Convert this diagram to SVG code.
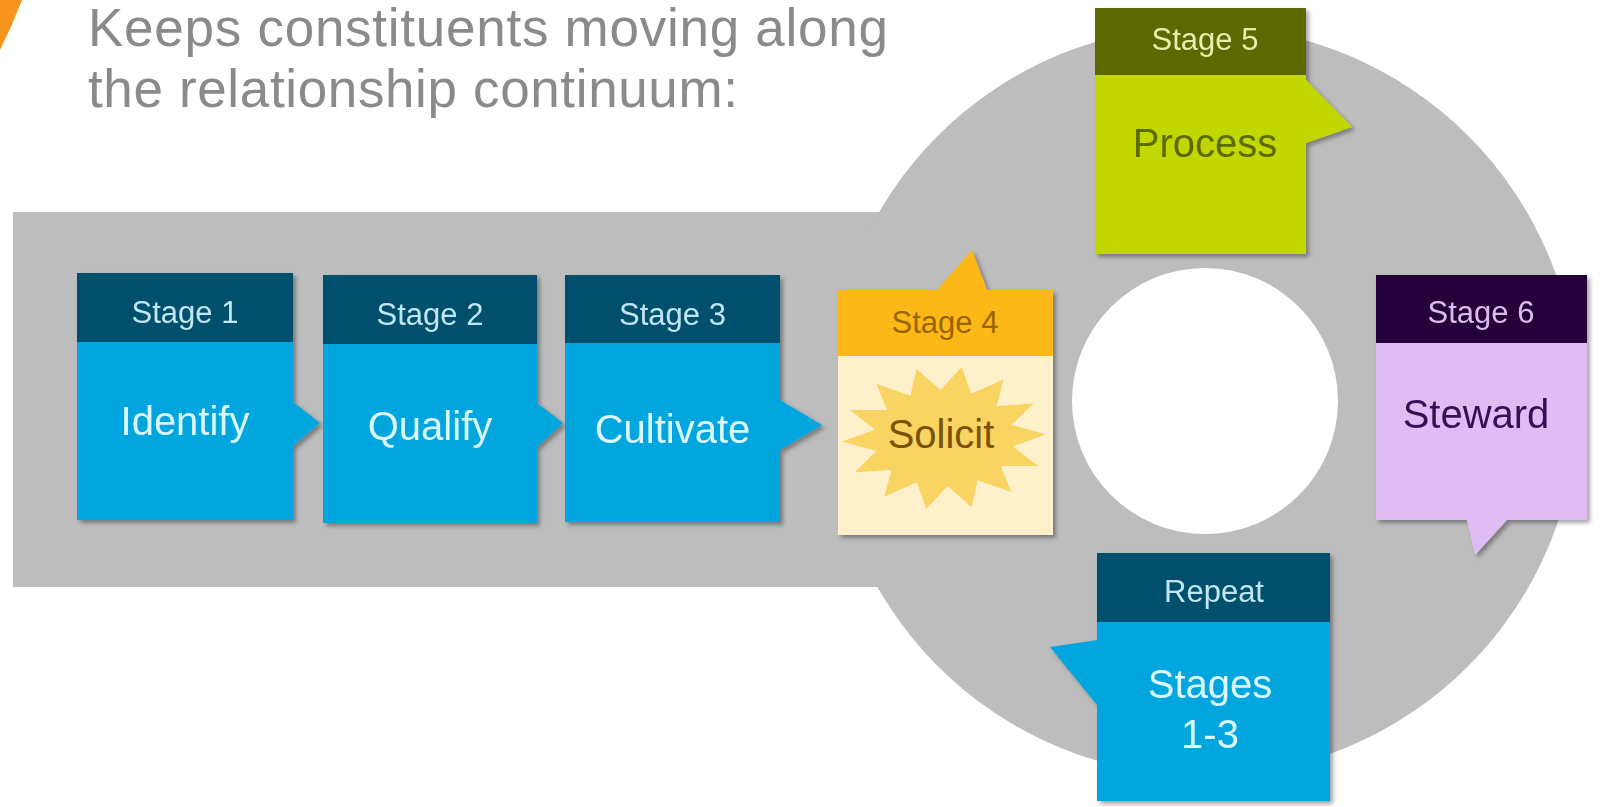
<svg xmlns="http://www.w3.org/2000/svg" width="1608" height="807" viewBox="0 0 1608 807">
  <defs>
    <filter id="sh" x="-10%" y="-10%" width="130%" height="130%">
      <feDropShadow dx="3" dy="3" stdDeviation="2" flood-color="#000" flood-opacity="0.35"/>
    </filter>
  </defs>
  <style>
    .t { font-family: "Liberation Sans", Arial, sans-serif; text-anchor: middle; }
    .hd { font-size: 31px; }
    .bd { font-size: 40px; }
    .bh { fill: #044f6d; }
    .bb { fill: #00a6dd; }
    .bht { fill: #bfe6f2; }
    .bbt { fill: #dcf8ff; }
  </style>
  <rect width="1608" height="807" fill="#ffffff"/>

  <g id="background">
    <path d="M0,0 L22,0 Q12,26 0,50 Z" fill="#f7941d"/>
    <rect x="13" y="212" width="900" height="375" fill="#bdbdbd"/>
    <circle cx="1203" cy="401" r="375" fill="#bdbdbd"/>
    <circle cx="1205" cy="401" r="133" fill="#ffffff"/>
  </g>

  <g id="title" class="t" style="text-anchor:start" fill="#8a8a8a" font-size="53">
    <text x="88" y="46" textLength="800" lengthAdjust="spacing">Keeps constituents moving along</text>
    <text x="88" y="107" textLength="650" lengthAdjust="spacing">the relationship continuum:</text>
  </g>

  <g id="connectors"></g>

  <g id="stage1" filter="url(#sh)">
    <path class="bb" d="M77,342 H293 V402 L320,423 L293,446 V520 H77 Z"/>
    <rect class="bh" x="77" y="273" width="216" height="69"/>
    <text class="t hd bht" x="185" y="323">Stage 1</text>
    <text class="t bd bbt" x="185" y="435">Identify</text>
  </g>

  <g id="stage2" filter="url(#sh)">
    <path class="bb" d="M323,344 H537 V403 L563,423 L537,447 V523 H323 Z"/>
    <rect class="bh" x="323" y="275" width="214" height="69"/>
    <text class="t hd bht" x="430" y="325">Stage 2</text>
    <text class="t bd bbt" x="430" y="440">Qualify</text>
  </g>

  <g id="stage3" filter="url(#sh)">
    <path class="bb" d="M565,343 H780 V400 L822,425 L780,450 V522 H565 Z"/>
    <rect class="bh" x="565" y="275" width="215" height="68"/>
    <text class="t hd bht" x="672.5" y="325">Stage 3</text>
    <text class="t bd bbt" x="672.5" y="443">Cultivate</text>
  </g>

  <g id="stage4">
    <g filter="url(#sh)">
      <rect x="838" y="356" width="215" height="179" fill="#fdf0ca"/>
      <path d="M838,290 H937 L972,250 L987,290 H1053 V356 H838 Z" fill="#fcb813"/>
    </g>
    <polygon fill="#f9d462" points="961.7,367.1 971.2,393.8 1003.5,379.5 996.5,406.2 1033.6,403.6 1011.4,425 1045.9,434.4 1012.9,446.3 1038,466 1000.8,466 1011.5,492 977.5,480.2 971.6,507.3 947.5,485.9 926.3,508.9 916.8,482.2 884.5,496.5 891.5,469.8 854.4,472.4 876.6,451 842.1,441.6 875.1,429.7 850,410 887.2,410 876.5,384 910.5,395.8 916.4,368.7 940.5,390.1"/>
    <text class="t hd" x="945" y="333" fill="#9a6400">Stage 4</text>
    <text class="t bd" x="941" y="448" fill="#7a5200">Solicit</text>
  </g>

  <g id="stage5" filter="url(#sh)">
    <path d="M1095,75 H1306 V80 L1352,127 L1306,143 V254 H1095 Z" fill="#c2d700"/>
    <rect x="1095" y="8" width="211" height="67" fill="#5b6700"/>
    <text class="t hd" x="1205" y="50" fill="#e6eeae">Stage 5</text>
    <text class="t bd" x="1205" y="157" fill="#5c6b00">Process</text>
  </g>

  <g id="stage6" filter="url(#sh)">
    <path d="M1376,343 H1587 V520 H1507 L1475,555 L1467,520 H1376 Z" fill="#dfbdf4"/>
    <rect x="1376" y="275" width="211" height="68" fill="#25003a"/>
    <text class="t hd" x="1481" y="323" fill="#dabdea">Stage 6</text>
    <text class="t bd" x="1476" y="428" fill="#3a0f55">Steward</text>
  </g>

  <g id="repeat" filter="url(#sh)">
    <path class="bb" d="M1097,622 H1330 V801 H1097 V705 L1050,647 L1097,640 Z"/>
    <rect class="bh" x="1097" y="553" width="233" height="69"/>
    <text class="t hd bht" x="1214" y="602">Repeat</text>
    <text class="t bd bbt" x="1210" y="698">Stages</text>
    <text class="t bd bbt" x="1210" y="748">1-3</text>
  </g>
</svg>
